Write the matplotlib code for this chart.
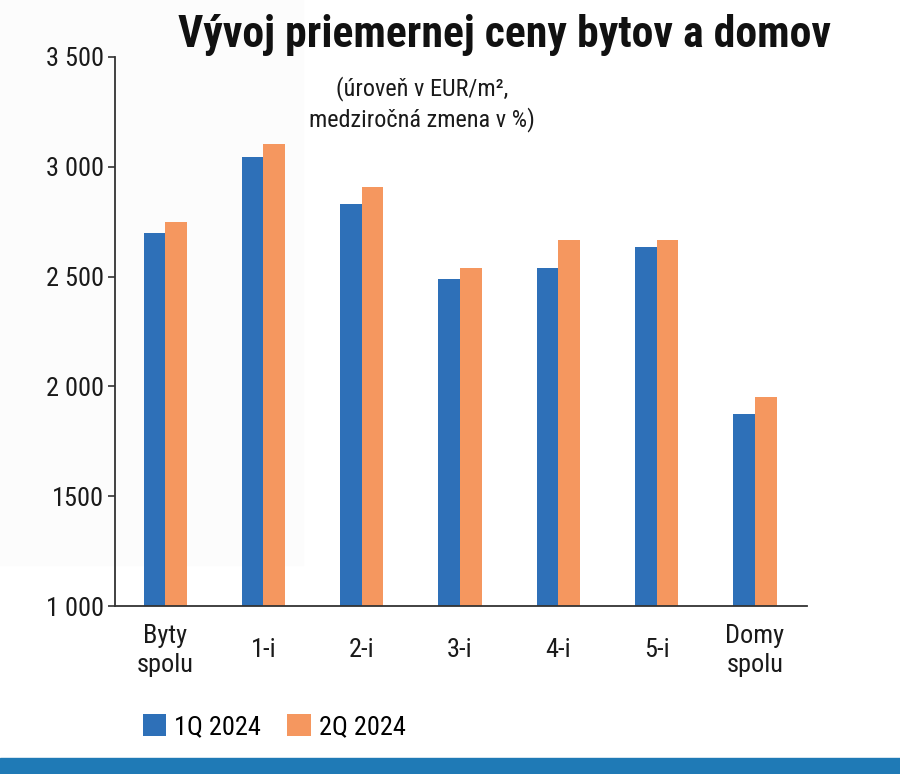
import matplotlib
matplotlib.use("Agg")
from matplotlib import pyplot as plt
from matplotlib import font_manager
from matplotlib.patches import Rectangle
import numpy as np

categories = ["Byty\nspolu", "1-i", "2-i", "3-i", "4-i", "5-i", "Domy\nspolu"]
q1_2024 = [2700, 3045, 2830, 2490, 2540, 2635, 1875]
q2_2024 = [2750, 3105, 2910, 2540, 2665, 2665, 1950]
yticks = [1000, 1500, 2000, 2500, 3000, 3500]
ytick_labels = ["1 000", "1500", "2 000", "2 500", "3 000", "3 500"]

blue = "#2e70b8"
orange = "#f5975f"

# pick a narrow family if one is there
names = set(f.name for f in font_manager.fontManager.ttflist)
narrow = "DejaVu Sans"
for cand in ["Roboto Condensed", "Liberation Sans Narrow", "DejaVu Sans Condensed", "Open Sans Condensed"]:
    if cand in names:
        narrow = cand
        break
plt.rcParams['font.family'] = [narrow, 'DejaVu Sans']

fig = plt.figure(figsize=(9, 7.74), dpi=100)
W, H = 900, 774

# faint grey panel top-left and blue strip at the bottom
fig.patches.append(Rectangle((0, 1 - 565 / H), 303 / W, 565 / H, transform=fig.transFigure,
                             color="#fcfcfc", zorder=-5))
fig.patches.append(Rectangle((0, 0), 1, 16 / H, transform=fig.transFigure,
                             color="#1f7ab6", zorder=-5))

ax = fig.add_axes([115 / W, 1 - 606 / H, (807 - 115) / W, (606 - 57) / H])
ax.set_zorder(2)
ax.patch.set_alpha(0)

x = np.arange(len(categories))
w = 0.22
b1 = ax.bar(x - w / 2, np.array(q1_2024) - 1000, w, bottom=1000, color=blue, label="1Q 2024")
b2 = ax.bar(x + w / 2, np.array(q2_2024) - 1000, w, bottom=1000, color=orange, label="2Q 2024")

ax.set_xlim(-0.51, 6.53)
ax.set_ylim(1000, 3500)
ax.spines['top'].set_visible(False)
ax.spines['right'].set_visible(False)
ax.spines['left'].set_linewidth(1.3)
ax.spines['bottom'].set_linewidth(1.3)
ax.spines['left'].set_color("#333333")
ax.spines['bottom'].set_color("#333333")

ax.set_yticks(yticks)
ax.set_yticklabels(ytick_labels, fontsize=19, color="#1a1a1a")
ax.tick_params(axis='y', length=5, width=1.2, color="#333333", pad=3)
ax.set_xticks(x)
ax.set_xticklabels(categories, fontsize=19, color="#1a1a1a", va='center', linespacing=1.25)
ax.tick_params(axis='x', length=0, pad=32)

fig.text(505 / W, 1 - 35 / H, "Vývoj priemernej ceny bytov a domov", ha='center', va='center',
         fontsize=31.5, fontweight='bold', color="#111111")
fig.text(422 / W, 1 - 104 / H, "(úroveň v EUR/m²,\nmedziročná zmena v %)", ha='center', va='center',
         fontsize=17.5, color="#1a1a1a", linespacing=1.35)

fig.legend(handles=[b1, b2], loc='center left', bbox_to_anchor=(132 / W, 1 - 727 / H),
           ncol=2, frameon=False, fontsize=19, handlelength=0.9, handleheight=0.9,
           handletextpad=0.3, columnspacing=1.0, borderaxespad=0)

fig.savefig("out.png", dpi=100)
